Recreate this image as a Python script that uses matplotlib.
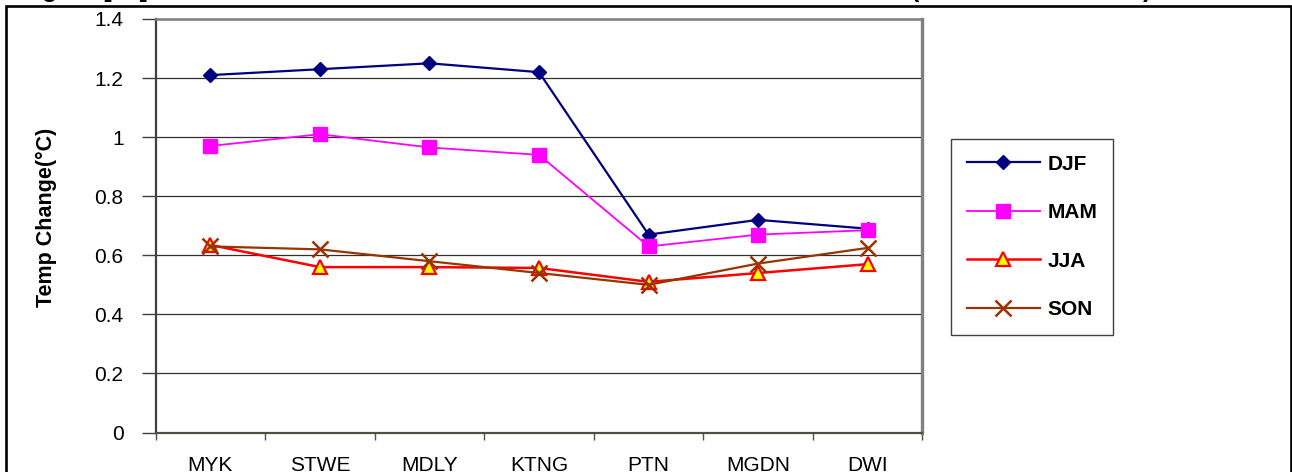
import matplotlib
matplotlib.use("Agg")
import matplotlib.pyplot as plt
from matplotlib.patches import Rectangle

plt.rcParams['font.family'] = ['Liberation Sans', 'DejaVu Sans']

stations = ["MYK", "STWE", "MDLY", "KTNG", "PTN", "MGDN", "DWI"]
djf = [1.21, 1.23, 1.25, 1.22, 0.67, 0.72, 0.69]
mam = [0.97, 1.01, 0.965, 0.94, 0.63, 0.67, 0.685]
jja = [0.635, 0.56, 0.56, 0.557, 0.51, 0.54, 0.57]
son = [0.63, 0.62, 0.58, 0.54, 0.50, 0.572, 0.625]
yticks = [0, 0.2, 0.4, 0.6, 0.8, 1.0, 1.2, 1.4]
ytick_labels = ["0", "0.2", "0.4", "0.6", "0.8", "1", "1.2", "1.4"]
ylabel = "Temp Change(°C)"

W, H = 1292, 472
fig = plt.figure(figsize=(W / 100, H / 100), dpi=100)
fig.patch.set_facecolor("white")

left_px, right_px, top_px, bot_px = 155.5, 922.5, 19, 432.5
ax = fig.add_axes([left_px / W, 1 - bot_px / H, (right_px - left_px) / W, (bot_px - top_px) / H])

x = list(range(len(stations)))
ax.plot(x, djf, color="#000080", lw=1.6, marker="D", ms=7.5, mfc="#000080", mec="#000080", label="DJF", zorder=3)
ax.plot(x, mam, color="#FF00FF", lw=1.3, marker="s", ms=10.5, mfc="#FF00FF", mec="#FF00FF", label="MAM", zorder=3)
ax.plot(x, jja, color="#FF0000", lw=1.8, marker="^", ms=10.5, mfc="#FFFF00", mec="#FF0000", mew=1.6, label="JJA", zorder=3)
ax.plot(x, son, color="#993300", lw=1.6, marker="x", ms=11, mec="#993300", mew=1.8, label="SON", zorder=4)

ax.set_xlim(-0.5, len(stations) - 0.5)
ax.set_ylim(0, 1.4)
ax.set_yticks(yticks)
ax.set_yticklabels(ytick_labels, fontsize=15)
ax.yaxis.grid(True, color="#303030", lw=0.9)
ax.set_axisbelow(True)
ax.tick_params(axis="y", direction="out", length=10, width=1, color="#404040", pad=13)

ax.set_xticks(x)
ax.set_xticklabels(stations, fontsize=15)
ax.tick_params(axis="x", which="major", length=0, pad=17)
ax.set_xticks([i - 0.5 for i in range(len(stations) + 1)], minor=True)
ax.tick_params(axis="x", which="minor", direction="out", length=5, width=1, color="#505050")

ax.set_ylabel(ylabel, fontsize=15.5, fontweight="bold")
ax.yaxis.set_label_coords((57 - left_px) / (right_px - left_px), (bot_px - 217) / (bot_px - top_px))

ax.spines["left"].set_color("#404040")
ax.spines["left"].set_linewidth(1.6)
ax.spines["bottom"].set_color("#505040")
ax.spines["bottom"].set_linewidth(1.6)
ax.spines["top"].set_color("#808080")
ax.spines["top"].set_linewidth(1.8)
ax.spines["right"].set_color("#808080")
ax.spines["right"].set_linewidth(2.4)

leg = ax.legend(loc="upper left", bbox_to_anchor=(951 / W, 1 - 139 / H), bbox_transform=fig.transFigure,
                prop={"size": 15, "weight": "bold"}, handlelength=3.5, handletextpad=0.38,
                labelspacing=1.42, borderpad=0.75, fancybox=False, framealpha=1, borderaxespad=0)
leg.get_frame().set_edgecolor("#404040")
leg.get_frame().set_linewidth(1.0)

# figure border
fig.patches.append(Rectangle((6 / W, -0.05), (1290.5 - 6) / W, 1.05 - 6 / H, transform=fig.transFigure,
                             fill=False, edgecolor="black", lw=1.9, zorder=10, clip_on=False))

# cut-off caption above the frame (only descenders visible)
cap_y = 1 + 3.0 / H
fig.text(20 / W, cap_y, "Figure [    ]", fontsize=18, fontweight="bold", va="baseline", ha="left")
fig.text(911 / W, cap_y, "(", fontsize=18, fontweight="bold", va="baseline", ha="left")
fig.text(1143 / W, cap_y, ")", fontsize=18, fontweight="bold", va="baseline", ha="left")

fig.savefig("out.png", dpi=100)
